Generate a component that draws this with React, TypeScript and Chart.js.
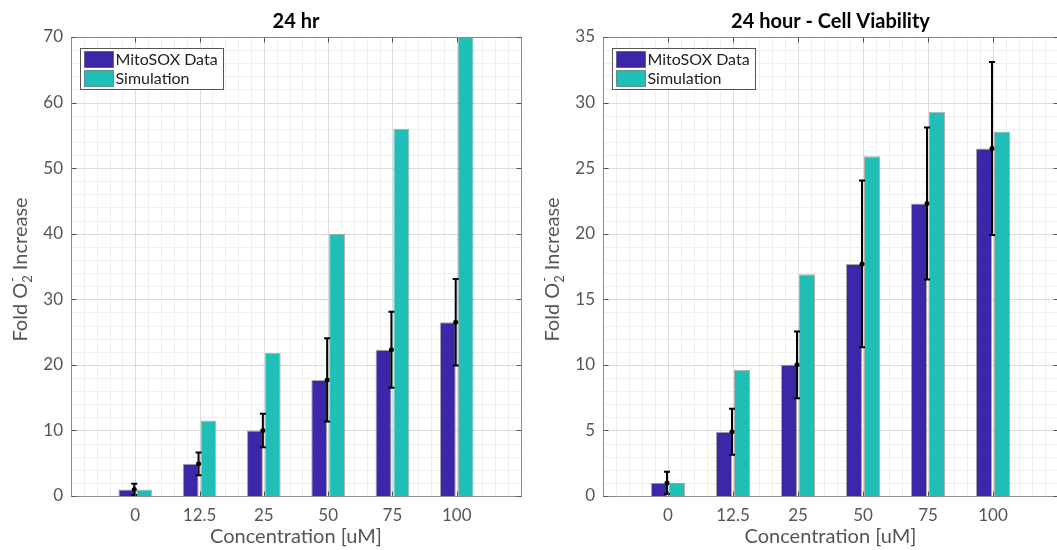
import React, { useEffect, useRef } from 'react';
import { Chart, registerables } from 'chart.js';

Chart.register(...registerables);

// ---------- data ----------
const categories = ['0', '12.5', '25', '50', '75', '100'];
const mitosoxData = [1.0, 4.9, 10.0, 17.7, 22.3, 26.5];
const mitosoxErr = [0.85, 1.75, 2.55, 6.35, 5.8, 6.6];
const simulation24hr = [1.0, 11.5, 21.8, 40.0, 56.0, 70.0];
const simulationViability = [1.0, 9.6, 16.9, 25.9, 29.3, 27.8];
const seriesNames = ['MitoSOX Data', 'Simulation'];
const leftYMax = 70;
const leftYStep = 10;
const rightYMax = 35;
const rightYStep = 5;
const xAxisTitle = 'Concentration [uM]';

const BLUE = '#3E26A8';
const TEAL = '#1FBFB7';
const FONT = "Lato, 'Open Sans', 'DejaVu Sans', sans-serif";

type PanelProps = {
  title: string;
  sim: number[];
  yMax: number;
  yStep: number;
  canvasWidth: number;
  padRight: number;
  yAxisWidth: number;
};

function padded(arr: number[]) {
  return [null, ...arr, null];
}

function Panel({ title, sim, yMax, yStep, canvasWidth, padRight, yAxisWidth }: PanelProps) {
  const ref = useRef<HTMLCanvasElement | null>(null);

  useEffect(() => {
    const canvas = ref.current;
    if (!canvas) return;
    const labels = ['', ...categories, ''];
    const nCat = labels.length - 1;

    const framePlugin = {
      id: 'frame',
      beforeDatasetsDraw(chart: any) {
        const { ctx, chartArea: a, scales } = chart;
        const xs = scales.x;
        const ys = scales.y;
        ctx.save();
        // minor grid
        ctx.strokeStyle = '#eeeeee';
        ctx.lineWidth = 1;
        ctx.beginPath();
        for (let i = 0; i < nCat * 5; i++) {
          if (i % 5 === 0) continue;
          const px = Math.round(xs.getPixelForValue(i / 5)) + 0.5;
          ctx.moveTo(px, a.top);
          ctx.lineTo(px, a.bottom);
        }
        const minorStep = yStep / 5;
        for (let v = 0; v <= yMax + 1e-9; v += minorStep) {
          const k = Math.round(v / minorStep);
          if (k % 5 === 0) continue;
          const py = Math.round(ys.getPixelForValue(v)) + 0.5;
          ctx.moveTo(a.left, py);
          ctx.lineTo(a.right, py);
        }
        ctx.stroke();
        // major grid
        ctx.strokeStyle = '#dcdcdc';
        ctx.beginPath();
        for (let i = 1; i < nCat; i++) {
          const px = Math.round(xs.getPixelForValue(i)) + 0.5;
          ctx.moveTo(px, a.top);
          ctx.lineTo(px, a.bottom);
        }
        for (let v = yStep; v < yMax; v += yStep) {
          const py = Math.round(ys.getPixelForValue(v)) + 0.5;
          ctx.moveTo(a.left, py);
          ctx.lineTo(a.right, py);
        }
        ctx.stroke();
        ctx.restore();
      },
      afterDatasetsDraw(chart: any) {
        const { ctx, chartArea: a, scales } = chart;
        const xs = scales.x;
        const ys = scales.y;
        ctx.save();
        // error bars
        ctx.strokeStyle = '#000';
        ctx.fillStyle = '#000';
        ctx.lineWidth = 2;
        mitosoxData.forEach((v, i) => {
          const px = xs.getPixelForValue(i + 1) - 1;
          const yTop = ys.getPixelForValue(v + mitosoxErr[i]);
          const yBot = ys.getPixelForValue(Math.max(0, v - mitosoxErr[i]));
          const yMid = ys.getPixelForValue(v);
          ctx.beginPath();
          ctx.moveTo(px, yTop);
          ctx.lineTo(px, yBot);
          ctx.moveTo(px - 3, yTop);
          ctx.lineTo(px + 3, yTop);
          ctx.moveTo(px - 3, yBot);
          ctx.lineTo(px + 3, yBot);
          ctx.stroke();
          ctx.beginPath();
          ctx.arc(px, yMid, 2.5, 0, Math.PI * 2);
          ctx.fill();
        });
        // box
        ctx.strokeStyle = '#8c8c8c';
        ctx.lineWidth = 1;
        const L = Math.round(a.left) + 0.5;
        const R = Math.round(a.right) + 0.5;
        const T = Math.round(a.top) + 0.5;
        const B = Math.round(a.bottom) + 0.5;
        ctx.strokeRect(L, T, R - L, B - T);
        // ticks (inward)
        ctx.strokeStyle = '#555';
        ctx.beginPath();
        for (let i = 1; i < nCat; i++) {
          const px = Math.round(xs.getPixelForValue(i)) + 0.5;
          ctx.moveTo(px, B);
          ctx.lineTo(px, B - 5);
          ctx.moveTo(px, T);
          ctx.lineTo(px, T + 5);
        }
        for (let v = 0; v <= yMax; v += yStep) {
          const py = Math.round(ys.getPixelForValue(v)) + 0.5;
          ctx.moveTo(L, py);
          ctx.lineTo(L + 5, py);
          ctx.moveTo(R, py);
          ctx.lineTo(R - 5, py);
        }
        ctx.stroke();
        ctx.restore();
      },
      afterDraw(chart: any) {
        const { ctx, chartArea: a } = chart;
        ctx.save();
        // legend
        const lx = a.left + 9.5;
        const ly = a.top + 11.5;
        const lw = 143;
        const lh = 41;
        ctx.fillStyle = '#fff';
        ctx.fillRect(lx, ly, lw, lh);
        ctx.strokeStyle = '#555';
        ctx.lineWidth = 1;
        ctx.strokeRect(lx, ly, lw, lh);
        const sw = [BLUE, TEAL];
        ctx.font = `16px ${FONT}`;
        ctx.textBaseline = 'middle';
        ctx.textAlign = 'left';
        sw.forEach((c, i) => {
          const sy = ly + 3 + i * 19;
          ctx.fillStyle = c;
          ctx.fillRect(lx + 4, sy, 29, 16);
          ctx.strokeStyle = 'rgba(0,0,0,0.35)';
          ctx.strokeRect(lx + 4, sy, 29, 16);
          ctx.fillStyle = '#222';
          ctx.fillText(seriesNames[i], lx + 35, sy + 8.5);
        });
        // title
        const cx = (a.left + a.right) / 2;
        ctx.fillStyle = '#000';
        ctx.font = `bold 20px ${FONT}`;
        ctx.textAlign = 'center';
        ctx.textBaseline = 'middle';
        ctx.fillText(title, cx, 22);
        // x label
        ctx.fillStyle = '#555';
        ctx.font = `20px ${FONT}`;
        ctx.fillText(xAxisTitle, cx, a.bottom + 41);
        // y label with sub/superscript
        const cy = (a.top + a.bottom) / 2 + 3;
        ctx.translate(a.left - 51, cy);
        ctx.rotate(-Math.PI / 2);
        const big = `20px ${FONT}`;
        const small = `13px ${FONT}`;
        const p1 = 'Fold O';
        const p3 = ' Increase';
        ctx.font = big;
        const w1 = ctx.measureText(p1).width;
        const w3 = ctx.measureText(p3).width;
        ctx.font = small;
        const w2 = Math.max(ctx.measureText('2').width, ctx.measureText('-').width);
        const total = w1 + w2 + w3;
        let x0 = -total / 2;
        ctx.textAlign = 'left';
        ctx.textBaseline = 'alphabetic';
        const base = 7;
        ctx.font = big;
        ctx.fillText(p1, x0, base);
        x0 += w1;
        ctx.font = small;
        ctx.fillText('2', x0, base + 5);
        ctx.fillText('-', x0 + 1, base - 10);
        x0 += w2;
        ctx.font = big;
        ctx.fillText(p3, x0, base);
        ctx.restore();
      },
    };

    const chart = new Chart(canvas, {
      type: 'bar',
      data: {
        labels,
        datasets: [
          {
            label: seriesNames[0],
            data: padded(mitosoxData) as any,
            backgroundColor: BLUE,
            borderColor: 'rgba(0,0,0,0.35)',
            borderWidth: 1,
            categoryPercentage: 0.554,
            barPercentage: 0.89,
          },
          {
            label: seriesNames[1],
            data: padded(sim) as any,
            backgroundColor: TEAL,
            borderColor: 'rgba(0,0,0,0.3)',
            borderWidth: 1,
            categoryPercentage: 0.554,
            barPercentage: 0.89,
          },
        ],
      },
      options: {
        responsive: false,
        animation: false,
        devicePixelRatio: 1,
        layout: { padding: { top: 37, left: 0, right: padRight, bottom: 0 }, autoPadding: false } as any,
        plugins: {
          legend: { display: false },
          title: { display: false },
          tooltip: { enabled: false },
        },
        scales: {
          x: {
            type: 'category',
            offset: false,
            grid: { display: false, drawTicks: false },
            border: { display: false },
            ticks: {
              color: '#555',
              font: { family: FONT, size: 17 },
              padding: 9,
              autoSkip: false,
              maxRotation: 0,
            },
            afterFit(scale: any) {
              scale.height = 54;
            },
          },
          y: {
            min: 0,
            max: yMax,
            grid: { display: false, drawTicks: false },
            border: { display: false },
            ticks: {
              stepSize: yStep,
              color: '#555',
              font: { family: FONT, size: 17 },
              padding: 8,
            },
            afterFit(scale: any) {
              scale.width = yAxisWidth;
            },
          },
        },
      },
      plugins: [framePlugin],
    });
    return () => chart.destroy();
  }, [title, sim, yMax, yStep, canvasWidth, padRight, yAxisWidth]);

  return <canvas ref={ref} width={canvasWidth} height={550} style={{ display: 'block', width: canvasWidth, height: 550 }} />;
}

export default function App() {
  return (
    <div
      style={{
        position: 'fixed',
        left: 0,
        top: 0,
        width: 1057,
        height: 550,
        overflow: 'hidden',
        background: '#fff',
      }}
    >
      <div style={{ position: 'absolute', left: 0, top: 0 }}>
        <Panel
          title="24 hr"
          sim={simulation24hr}
          yMax={leftYMax}
          yStep={leftYStep}
          canvasWidth={530}
          padRight={4}
          yAxisWidth={71}
        />
      </div>
      <div style={{ position: 'absolute', left: 530, top: 0 }}>
        <Panel
          title="24 hour - Cell Viability"
          sim={simulationViability}
          yMax={rightYMax}
          yStep={rightYStep}
          canvasWidth={540}
          padRight={12}
          yAxisWidth={73}
        />
      </div>
    </div>
  );
}
